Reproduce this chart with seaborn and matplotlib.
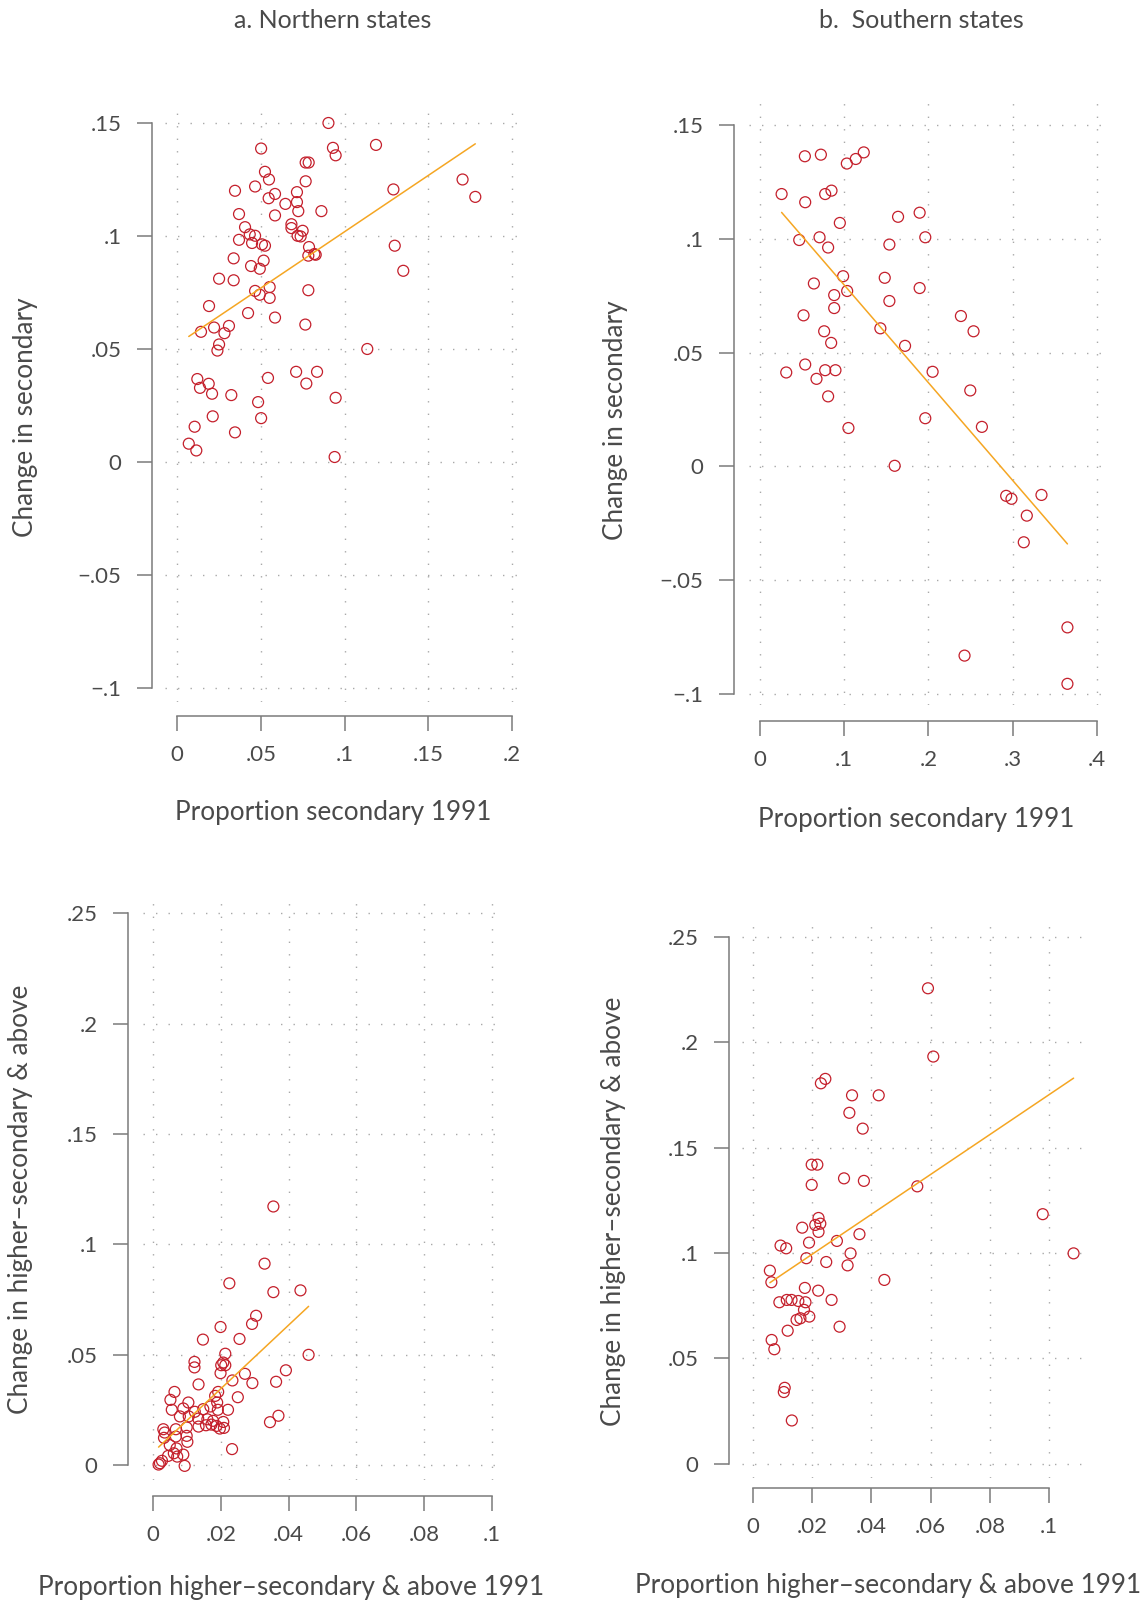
import matplotlib
matplotlib.use("Agg")
import matplotlib.pyplot as plt
import seaborn as sns

# ---- data ----
# a. Northern states, secondary
north_sec_x = [0.0904, 0.0502, 0.0931, 0.0947, 0.1188, 0.0768, 0.0786, 0.0525, 0.0549, 0.0768,
               0.1705, 0.1781, 0.0346, 0.0466, 0.0585, 0.0547, 0.0716, 0.0647, 0.0716, 0.1292,
               0.0724, 0.0862, 0.0370, 0.0585, 0.0683, 0.0683, 0.0750, 0.0720, 0.0738, 0.0406,
               0.0434, 0.0466, 0.0370, 0.0448, 0.0507, 0.0525, 0.0788, 0.0784, 0.0820, 0.0828,
               0.1300, 0.1351, 0.0338, 0.0442, 0.0517, 0.0494, 0.0251, 0.0338, 0.0466, 0.0494,
               0.0553, 0.0553, 0.0784, 0.0191, 0.0424, 0.0585, 0.0766, 0.0143, 0.0221, 0.0310,
               0.0283, 0.0251, 0.0241, 0.1136, 0.0121, 0.0189, 0.0137, 0.0209, 0.0324, 0.0543,
               0.0711, 0.0836, 0.0772, 0.0947, 0.0484, 0.0213, 0.0502, 0.0105, 0.0346, 0.0070,
               0.0115, 0.0941]
north_sec_y = [0.1500, 0.1387, 0.1390, 0.1357, 0.1403, 0.1325, 0.1325, 0.1284, 0.1250, 0.1242,
               0.1250, 0.1173, 0.1200, 0.1219, 0.1186, 0.1167, 0.1194, 0.1142, 0.1150, 0.1206,
               0.1110, 0.1110, 0.1097, 0.1091, 0.1052, 0.1035, 0.1023, 0.1001, 0.0998, 0.1039,
               0.1007, 0.1001, 0.0983, 0.0969, 0.0963, 0.0957, 0.0951, 0.0913, 0.0920, 0.0917,
               0.0957, 0.0846, 0.0901, 0.0867, 0.0891, 0.0855, 0.0811, 0.0804, 0.0757, 0.0740,
               0.0774, 0.0726, 0.0760, 0.0690, 0.0659, 0.0639, 0.0608, 0.0576, 0.0595, 0.0602,
               0.0570, 0.0520, 0.0493, 0.0500, 0.0367, 0.0346, 0.0328, 0.0302, 0.0296, 0.0372,
               0.0399, 0.0399, 0.0347, 0.0284, 0.0265, 0.0202, 0.0194, 0.0156, 0.0131, 0.0081,
               0.0051, 0.0022]

# b. Southern states, secondary
south_sec_x = [0.0533, 0.0723, 0.1232, 0.1137, 0.1031, 0.0257, 0.0537, 0.0774, 0.0849, 0.0948,
               0.1639, 0.1895, 0.0466, 0.0707, 0.0809, 0.1536, 0.1962, 0.0987, 0.1481, 0.0640,
               0.1035, 0.0881, 0.1895, 0.1536, 0.0881, 0.0517, 0.2385, 0.2535, 0.0762, 0.0845,
               0.1429, 0.1722, 0.0312, 0.0537, 0.0774, 0.0896, 0.0671, 0.2049, 0.0809, 0.2496,
               0.1962, 0.2634, 0.1050, 0.1599, 0.2922, 0.2985, 0.3341, 0.3167, 0.3131, 0.3649,
               0.2428, 0.3649]
south_sec_y = [0.1363, 0.1370, 0.1380, 0.1351, 0.1331, 0.1197, 0.1161, 0.1197, 0.1212, 0.1070,
               0.1097, 0.1115, 0.0995, 0.1007, 0.0962, 0.0975, 0.1007, 0.0836, 0.0829, 0.0804,
               0.0771, 0.0753, 0.0784, 0.0727, 0.0696, 0.0664, 0.0661, 0.0594, 0.0594, 0.0543,
               0.0607, 0.0530, 0.0413, 0.0448, 0.0423, 0.0423, 0.0385, 0.0416, 0.0308, 0.0334,
               0.0212, 0.0174, 0.0169, 0.0003, -0.0129, -0.0142, -0.0125, -0.0216, -0.0333, -0.0707,
               -0.0831, -0.0955]

# c. Northern states, higher-secondary & above
north_hs_x = [0.0355, 0.0329, 0.0225, 0.0355, 0.0435, 0.0304, 0.0292, 0.0199, 0.0147, 0.0255,
              0.0213, 0.0459, 0.0392,
              0.0122, 0.0122, 0.0201, 0.0213, 0.0207, 0.0199, 0.0234, 0.0271, 0.0293, 0.0363,
              0.0134, 0.0063, 0.0051, 0.0055, 0.0104, 0.0089, 0.0123, 0.0148, 0.0183, 0.0192,
              0.0189, 0.0191, 0.0169, 0.0221, 0.0250, 0.0079, 0.0105, 0.0133, 0.0160, 0.0177,
              0.0207, 0.0156, 0.0172, 0.0187, 0.0197, 0.0209, 0.0134, 0.0345, 0.0370, 0.0030,
              0.0034, 0.0067, 0.0099, 0.0032, 0.0067, 0.0099, 0.0101, 0.0049, 0.0069, 0.0089,
              0.0061, 0.0044, 0.0233, 0.0026, 0.0020, 0.0016, 0.0093, 0.0071]
north_hs_y = [0.1172, 0.0913, 0.0824, 0.0784, 0.0792, 0.0677, 0.0640, 0.0626, 0.0569, 0.0572,
              0.0505, 0.0500, 0.0430,
              0.0468, 0.0443, 0.0453, 0.0453, 0.0465, 0.0417, 0.0384, 0.0414, 0.0372, 0.0378,
              0.0366, 0.0332, 0.0296, 0.0251, 0.0284, 0.0257, 0.0242, 0.0254, 0.0314, 0.0332,
              0.0284, 0.0251, 0.0266, 0.0251, 0.0308, 0.0221, 0.0221, 0.0211, 0.0208, 0.0201,
              0.0196, 0.0181, 0.0184, 0.0178, 0.0166, 0.0169, 0.0175, 0.0195, 0.0224, 0.0163,
              0.0148, 0.0163, 0.0171, 0.0124, 0.0130, 0.0133, 0.0106, 0.0091, 0.0076, 0.0048,
              0.0054, 0.0042, 0.0073, 0.0020, 0.0009, 0.0003, -0.0003, 0.0039]

# d. Southern states, higher-secondary & above
south_hs_x = [0.0591, 0.0609, 0.0230, 0.0245, 0.0335, 0.0425, 0.0326, 0.0371, 0.0199, 0.0218,
              0.0199, 0.0308, 0.0375, 0.0555, 0.0978, 0.0222, 0.0211, 0.0228, 0.0222, 0.0167,
              0.0360, 0.0190, 0.0284, 0.0094, 0.0113, 0.0330, 0.1082, 0.0181, 0.0248, 0.0320,
              0.0058, 0.0063, 0.0444, 0.0176, 0.0221, 0.0266, 0.0090, 0.0115, 0.0131, 0.0154,
              0.0178, 0.0173, 0.0191, 0.0148, 0.0161, 0.0293, 0.0118, 0.0064, 0.0073, 0.0108,
              0.0105, 0.0132]
south_hs_y = [0.2256, 0.1932, 0.1805, 0.1826, 0.1748, 0.1748, 0.1665, 0.1590, 0.1419, 0.1419,
              0.1323, 0.1354, 0.1342, 0.1316, 0.1184, 0.1166, 0.1133, 0.1139, 0.1100, 0.1120,
              0.1089, 0.1049, 0.1057, 0.1035, 0.1022, 0.0998, 0.0998, 0.0975, 0.0957, 0.0941,
              0.0916, 0.0861, 0.0872, 0.0834, 0.0821, 0.0777, 0.0766, 0.0777, 0.0777, 0.0772,
              0.0766, 0.0730, 0.0698, 0.0682, 0.0690, 0.0650, 0.0631, 0.0587, 0.0543, 0.0360,
              0.0340, 0.0205]

sec_x_ticks_north = [0, 0.05, 0.1, 0.15, 0.2]
sec_x_ticks_south = [0, 0.1, 0.2, 0.3, 0.4]
sec_y_ticks = [-0.1, -0.05, 0, 0.05, 0.1, 0.15]
hs_x_ticks = [0, 0.02, 0.04, 0.06, 0.08, 0.1]
hs_y_ticks = [0, 0.05, 0.1, 0.15, 0.2, 0.25]

titles = ["a. Northern states", "b.  Southern states"]
ylab_sec = "Change in secondary"
xlab_sec = "Proportion secondary 1991"
ylab_hs = "Change in higher\u2013secondary & above"
xlab_hs = "Proportion higher\u2013secondary & above 1991"

# ---- style ----
sns.set_theme(style="white")
plt.rcParams["font.family"] = ["Lato", "DejaVu Sans"]

RED = "#c41f2b"
ORANGE = "#f5a623"
TXT = "#4a4a4a"
AXC = "#7a7a7a"
GRID = "#a9a9a9"
LAB_FS = 18.8

W, H = 1145, 1607
fig = plt.figure(figsize=(W / 100, H / 100), dpi=100)


def px(x, y):
    return x / W, 1 - y / H


def tick_lab(v):
    s = f"{v:g}"
    if s.startswith("0."):
        s = s[1:]
    elif s.startswith("-0."):
        s = "\u2212" + s[2:]
    return s


def panel(l, t, r, b, x, y, xlim, ylim, xt, yt, off_l, off_b):
    ax = fig.add_axes([l / W, 1 - b / H, (r - l) / W, (b - t) / H])
    sns.regplot(x=x, y=y, ax=ax, ci=None, truncate=True,
                scatter_kws=dict(facecolors="none", edgecolors=RED, color=RED,
                                 s=62, linewidths=0.9, alpha=1, zorder=3),
                line_kws=dict(color=ORANGE, lw=1.1, zorder=4))
    ax.set_xlim(*xlim)
    ax.set_ylim(*ylim)
    ax.set_xticks(xt)
    ax.set_yticks(yt)
    ax.set_xticklabels([tick_lab(v) for v in xt])
    ax.set_yticklabels([tick_lab(v) for v in yt])
    ax.set_xlabel("")
    ax.set_ylabel("")
    ax.grid(True, linestyle=(0, (1, 8)), lw=1, color=GRID)
    for s in ["top", "right"]:
        ax.spines[s].set_visible(False)
    ax.spines["left"].set_position(("outward", off_l * 0.72))
    ax.spines["bottom"].set_position(("outward", off_b * 0.72))
    ax.spines["left"].set_bounds(yt[0], yt[-1])
    ax.spines["bottom"].set_bounds(xt[0], xt[-1])
    for s in ["left", "bottom"]:
        ax.spines[s].set_color(AXC)
        ax.spines[s].set_linewidth(1.1)
    ax.tick_params(axis="both", length=11, width=1.1, color=AXC,
                   labelsize=16, labelcolor=TXT, left=True, bottom=True)
    ax.tick_params(axis="y", pad=11)
    ax.tick_params(axis="x", pad=10)
    return ax


panel(165, 104, 520, 702, north_sec_x, north_sec_y, (-0.0072, 0.2048), (-0.1062, 0.1584),
      sec_x_ticks_north, sec_y_ticks, 13, 14)
panel(749, 103, 1112, 705, south_sec_x, south_sec_y, (-0.013, 0.4178), (-0.1048, 0.1597),
      sec_x_ticks_south, sec_y_ticks, 15, 16)
panel(143, 895, 505, 1480, north_hs_x, north_hs_y, (-0.003, 0.1039), (-0.0067, 0.2583),
      hs_x_ticks, hs_y_ticks, 15, 16)
panel(742, 920, 1089, 1478, south_hs_x, south_hs_y, (-0.0036, 0.1134), (-0.0068, 0.258),
      hs_x_ticks, hs_y_ticks, 13, 10)

# titles and axis labels
fig.text(*px(333, 21), titles[0], ha="center", va="center", fontsize=18, color=TXT)
fig.text(*px(921, 21), titles[1], ha="center", va="center", fontsize=18, color=TXT)

fig.text(*px(26, 417), ylab_sec, rotation=90, ha="center", va="center", fontsize=LAB_FS, color=TXT)
fig.text(*px(615, 420), ylab_sec, rotation=90, ha="center", va="center", fontsize=LAB_FS, color=TXT)
fig.text(*px(333, 812), xlab_sec, ha="center", va="center", fontsize=LAB_FS, color=TXT)
fig.text(*px(916, 820), xlab_sec, ha="center", va="center", fontsize=LAB_FS, color=TXT)

fig.text(*px(21, 1199), ylab_hs, rotation=90, ha="center", va="center", fontsize=LAB_FS, color=TXT)
fig.text(*px(613, 1211), ylab_hs, rotation=90, ha="center", va="center", fontsize=LAB_FS, color=TXT)
fig.text(*px(291, 1588), xlab_hs, ha="center", va="center", fontsize=LAB_FS, color=TXT)
fig.text(*px(888, 1586), xlab_hs, ha="center", va="center", fontsize=LAB_FS, color=TXT)

fig.savefig("out.png", dpi=100, facecolor="white")
